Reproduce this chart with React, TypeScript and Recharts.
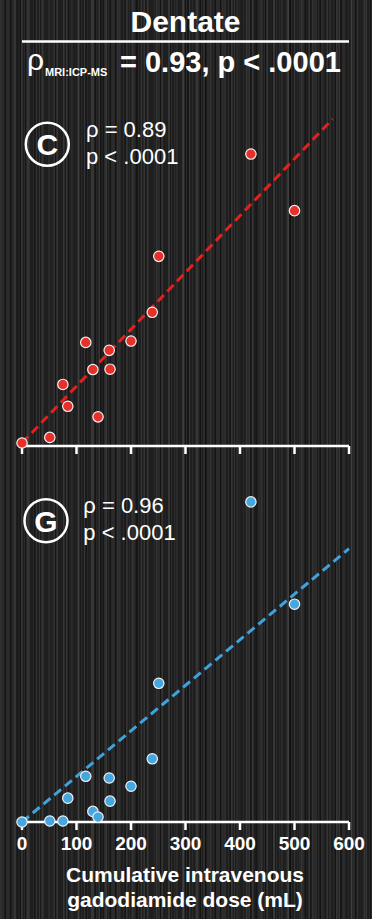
import React from "react"
import { ScatterChart, Scatter, XAxis, YAxis, ReferenceLine } from "recharts"

// cumulative gadodiamide dose (mL), same patients in both panels
const doses = [0, 51, 75, 84, 117, 130, 139.5, 160, 161.5, 200, 239, 251, 420, 500]
// panel C: MRI signal (relative units)
const mriValues = [0.9, 2.6, 18.6, 12.0, 31.3, 23.1, 8.8, 28.9, 23.2, 31.7, 40.4, 57.3, 88.2, 71.1]
// panel G: ICP-MS gadolinium (relative units)
const icpValues = [0, 0.3, 0.3, 7.2, 13.8, 3.2, 1.5, 13.3, 6.3, 10.8, 19.1, 41.9, 96.7, 65.8]
// fitted lines, [start, end]
const mriFit = [{ x: 0, y: 0.9 }, { x: 570, y: 98.8 }]
const icpFit = [{ x: 0, y: 0 }, { x: 600, y: 82.6 }]
const xTicks = [0, 100, 200, 300, 400, 500, 600]

const FONT = "'Liberation Sans', Arial, sans-serif"
const RED = "#e8302a"
const BLUE = "#45a6e0"

const mriData = doses.map((d, i) => ({ x: d, y: mriValues[i] }))
const icpData = doses.map((d, i) => ({ x: d, y: icpValues[i] }))

const dot = (fill: string) => (props: any) => (
  <circle cx={props.cx} cy={props.cy} r={5.2} fill={fill} stroke="#f2f2f2" strokeWidth={1.2} />
)

function Panel({ data, fit, color, lineColor, showLabels, top, height, axisHeight }: any) {
  return (
    <div style={{ position: "absolute", left: 0, top }}>
      <ScatterChart width={372} height={height} margin={{ top: 15, right: 23, bottom: 0, left: 22 }}>
        <XAxis
          type="number"
          dataKey="x"
          domain={[0, 600]}
          ticks={xTicks}
          height={axisHeight}
          axisLine={{ stroke: "#fff", strokeWidth: 2.5 }}
          tickLine={{ stroke: "#fff", strokeWidth: 2.5 }}
          tickSize={8}
          tickMargin={7}
          tickFormatter={(v: number) => (showLabels ? String(v) : "")}
          tick={{ fill: "#fff", fontSize: 19, fontWeight: "bold", fontFamily: FONT }}
        />
        <YAxis type="number" dataKey="y" domain={[0, 100]} hide />
        <ReferenceLine
          segment={fit}
          stroke={lineColor}
          strokeWidth={3}
          strokeDasharray="9 5"
          ifOverflow="visible"
        />
        <Scatter data={data} isAnimationActive={false} shape={dot(color)} />
      </ScatterChart>
    </div>
  )
}

const bg = [
  "repeating-linear-gradient(90deg, rgba(255,255,255,0.05) 0 1px, transparent 1px 3px)",
  "repeating-linear-gradient(90deg, rgba(255,255,255,0.06) 0 2px, transparent 2px 7px)",
  "repeating-linear-gradient(90deg, rgba(0,0,0,0.35) 0 1px, transparent 1px 5px)",
  "repeating-linear-gradient(90deg, rgba(255,255,255,0.05) 0 3px, transparent 3px 13px)",
  "repeating-linear-gradient(90deg, rgba(0,0,0,0.25) 0 2px, transparent 2px 17px)",
].join(",")

export default function App() {
  return (
    <div
      style={{
        position: "fixed",
        left: 0,
        top: 0,
        width: 372,
        height: 919,
        backgroundColor: "#1e1e1e",
        backgroundImage: bg,
        fontFamily: FONT,
        overflow: "hidden",
      }}
    >
      <Panel data={mriData} fit={mriFit} color={RED} lineColor="#e0221e" showLabels={false} top={100} height={360} axisHeight={14} />
      <Panel data={icpData} fit={icpFit} color={BLUE} lineColor="#3ea2dd" showLabels={true} top={476} height={386} axisHeight={40} />

      <svg width={372} height={919} style={{ position: "absolute", left: 0, top: 0, pointerEvents: "none" }}>
        <g fill="#fff" fontFamily={FONT}>
          <text x={185.5} y={31.7} textAnchor="middle" fontSize={30} fontWeight="bold">Dentate</text>
          <line x1={22} x2={349} y1={41.5} y2={41.5} stroke="#fff" strokeWidth={2.5} />
          <text x={27} y={70} fontSize={30}>ρ</text>
          <text x={45} y={76} fontSize={11} fontWeight="bold">MRI:ICP-MS</text>
          <text x={120} y={71.7} fontSize={29} fontWeight="bold">= 0.93, p &lt; .0001</text>

          <circle cx={47.3} cy={144.3} r={21.5} fill="none" stroke="#fff" strokeWidth={2.5} />
          <text x={47.3} y={155} textAnchor="middle" fontSize={30} fontWeight="bold">C</text>
          <text x={86} y={136.7} fontSize={22}>ρ = 0.89</text>
          <text x={86} y={164} fontSize={22}>p &lt; .0001</text>

          <circle cx={46} cy={520.7} r={21.5} fill="none" stroke="#fff" strokeWidth={2.5} />
          <text x={46} y={531.5} textAnchor="middle" fontSize={30} fontWeight="bold">G</text>
          <text x={83.3} y={513.3} fontSize={22}>ρ = 0.96</text>
          <text x={83.3} y={540} fontSize={22}>p &lt; .0001</text>

          <text x={185} y={882.3} textAnchor="middle" fontSize={21} fontWeight="bold">Cumulative intravenous</text>
          <text x={185} y={906.7} textAnchor="middle" fontSize={21} fontWeight="bold">gadodiamide dose (mL)</text>
        </g>
      </svg>
    </div>
  )
}
